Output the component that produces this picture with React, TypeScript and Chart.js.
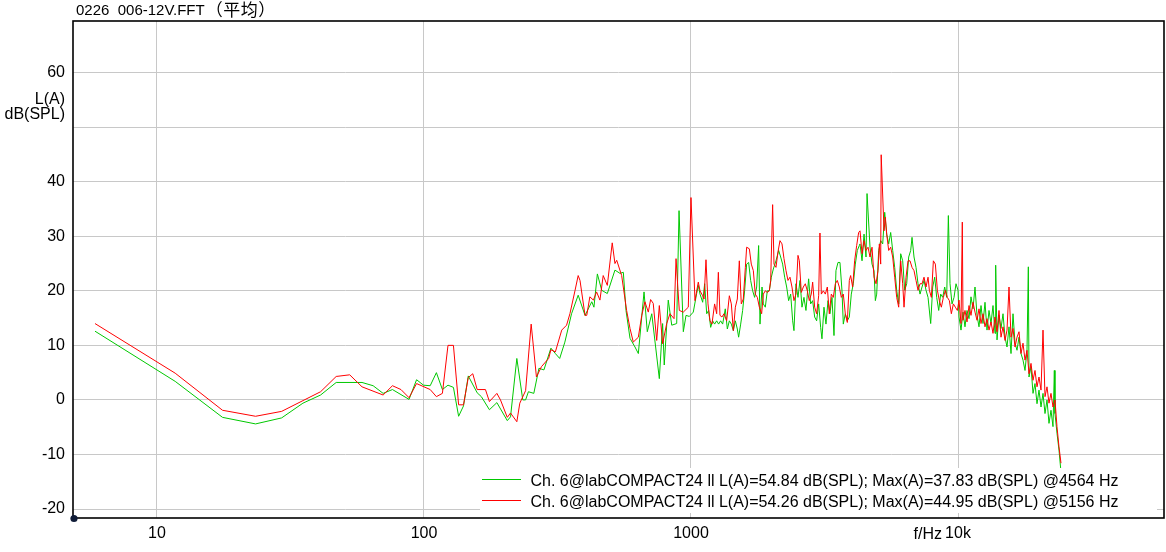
import React, { useEffect, useRef } from 'react';
import { Chart, registerables } from 'chart.js';

Chart.register(...registerables);

const chartTitle = '0226  006-12V.FFT（平均）';
const yUnitLines = ['L(A)', 'dB(SPL)'];
const xUnitLabel = 'f/Hz';
const xTickValues = [10, 100, 1000, 10000];
const xTickLabels = ['10', '100', '1000', '10k'];
const yHiddenTick = 50;
const seriesLabels = [
  'Ch. 6@labCOMPACT24 ll L(A)=54.84 dB(SPL); Max(A)=37.83 dB(SPL) @4564 Hz',
  'Ch. 6@labCOMPACT24 ll L(A)=54.26 dB(SPL); Max(A)=44.95 dB(SPL) @5156 Hz',
];
const seriesColors = ['rgb(0,200,0)', 'rgb(255,0,0)'];

// [frequency Hz, level dB(SPL)]
const greenSpectrum: [number, number][] = [
  [5.86, 12.6], [11.7, 3.4], [17.6, -3.2], [23.4, -4.4], [29.3, -3.3], [35.2, -0.6], [41.0, 0.9],
  [46.9, 3.2], [58.6, 3.2], [64.5, 2.6], [70.3, 1.2], [76.2, 1.9], [87.9, 0.1], [93.8, 3.7],
  [99.6, 2.7], [105.5, 2.6], [111.3, 5.0], [117.2, 1.9], [123.0, 2.7], [128.9, 2.3], [134.8, -3.0],
  [140.6, -1.1], [146.5, 4.4], [158.2, 1.3], [164.0, 0.6], [175.8, -1.8], [187.5, -0.5], [205.1, -3.8],
  [210.9, -3.1], [222.7, 7.6], [234.4, 0.0], [240.2, 0.0], [246.1, 1.5], [257.8, 1.2], [269.5, 5.8],
  [281.3, 5.5], [298.8, 9.5], [310.5, 8.5], [322.3, 7.6], [337, 10.6], [357, 15.8], [378, 19.2],
  [401, 15.5], [425, 18.0], [433, 17.0], [446, 23.1], [463, 20.1], [486, 19.5], [519, 23.8],
  [542, 23.2], [558, 23.4], [571, 16.4], [591, 11.3], [617, 9.7], [635, 8.5], [667, 19.8],
  [686, 12.5], [713, 15.8], [761, 3.9], [783, 14.0], [794, 6.4], [822, 18.3], [847, 13.7],
  [884, 14.0], [902, 34.7], [936, 12.5], [958, 15.5], [986, 15.3], [1020, 16.1], [1050, 19.5],
  [1065, 21.0], [1081, 19.4], [1106, 17.9], [1125, 21.3], [1145, 15.8], [1164, 16.4], [1185, 13.3],
  [1205, 14.5], [1226, 13.9], [1248, 14.5], [1269, 13.9], [1291, 14.5], [1314, 13.9], [1344, 16.7],
  [1368, 13.0], [1392, 14.5], [1416, 13.9], [1441, 12.7], [1466, 14.5], [1491, 13.0], [1508, 11.5],
  [1535, 13.9], [1561, 16.4], [1588, 20.0], [1616, 24.9], [1644, 25.2], [1673, 21.9], [1702, 20.0],
  [1731, 18.8], [1762, 20.7], [1792, 28.3], [1813, 13.9], [1845, 20.7], [1866, 17.6], [1898, 17.0],
  [1931, 20.0], [1965, 20.0], [1999, 22.5], [2034, 24.0], [2081, 25.5], [2130, 27.4], [2167, 26.2],
  [2204, 24.9], [2243, 22.5], [2282, 20.7], [2321, 18.2], [2362, 19.4], [2403, 14.5], [2430, 12.7],
  [2473, 21.3], [2516, 18.8], [2560, 21.9], [2604, 17.0], [2649, 18.8], [2695, 16.4], [2758, 22.2],
  [2806, 17.6], [2855, 18.2], [2905, 15.2], [2955, 14.5], [3007, 17.6], [3059, 13.3], [3094, 11.2],
  [3148, 17.0], [3203, 13.9], [3259, 18.2], [3315, 15.8], [3373, 18.8], [3432, 11.8], [3491, 23.7],
  [3552, 25.2], [3614, 25.2], [3677, 20.0], [3719, 13.9], [3784, 15.8], [3850, 14.5], [3917, 15.2],
  [3985, 19.4], [4054, 21.3], [4125, 24.9], [4197, 27.4], [4270, 28.3], [4296, 28.6], [4371, 25.5],
  [4447, 30.4], [4524, 26.2], [4564, 37.83], [4683, 28.0], [4764, 24.9], [4847, 23.7], [4903, 18.2],
  [4960, 19.4], [5046, 27.4], [5134, 29.2], [5224, 28.6], [5315, 34.4], [5407, 30.4], [5501, 28.6],
  [5596, 30.7], [5694, 27.4], [5793, 24.3], [5894, 20.1], [5996, 17.6], [6101, 26.8], [6207, 25.5],
  [6315, 20.1], [6425, 21.3], [6536, 26.2], [6650, 27.4], [6727, 29.8], [6844, 26.2], [6963, 24.3],
  [7084, 21.3], [7207, 19.4], [7333, 20.7], [7460, 21.9], [7590, 20.1], [7723, 18.8], [7902, 14.0],
  [8040, 20.7], [8179, 22.5], [8322, 18.8], [8467, 16.4], [8613, 19.4], [8763, 18.8], [8916, 20.7],
  [9071, 18.8], [9202, 33.8], [9335, 21.3], [9498, 17.6], [9663, 18.8], [9830, 21.3], [10001, 20.1],
  [10087, 15.2], [10263, 12.8], [10441, 16.1], [10622, 13.4], [10807, 16.4], [10995, 14.9], [11186, 18.9],
  [11381, 16.7], [11579, 20.7], [11781, 15.5], [11986, 13.4], [12195, 17.3], [12407, 14.0], [12623, 17.9],
  [12843, 12.8], [13066, 16.4], [13293, 14.0], [13525, 17.3], [13760, 12.2], [13840, 24.7], [14000, 11.0],
  [14241, 15.5], [14490, 13.1], [14742, 15.8], [14999, 11.5], [15259, 9.7], [15525, 13.4], [15795, 8.5],
  [16069, 15.8], [16349, 10.4], [16634, 9.1], [16923, 11.5], [17218, 8.5], [17518, 7.3], [17822, 5.4],
  [18133, 9.1], [18340, 24.4], [18447, 4.2], [18769, 6.1], [19095, 1.2], [19428, 3.0], [19766, -0.7],
  [20109, 1.8], [20459, -1.3], [20814, 1.2], [21176, -2.5], [21544, 0.0], [21918, -4.3], [22299, -1.9],
  [22687, -4.9], [22950, 5.4], [23082, -2.5], [23484, -6.1], [23892, -9.2], [24240, -12.6],
];

const redSpectrum: [number, number][] = [
  [5.86, 14.0], [11.7, 4.9], [17.6, -1.9], [23.4, -3.0], [29.3, -2.1], [41.0, 1.5], [46.9, 4.3],
  [52.7, 4.6], [58.6, 2.4], [70.3, 0.9], [76.2, 2.6], [82.0, 1.9], [87.9, 0.4], [93.8, 3.0],
  [105.5, 1.9], [111.3, 0.6], [117.2, 1.2], [123.0, 10.0], [128.9, 10.0], [134.8, -0.9], [140.6, -0.9],
  [146.5, 4.1], [152.3, 4.8], [158.2, 1.9], [169.9, 1.9], [175.8, -0.3], [187.5, 1.2], [193.4, 0.0],
  [205.1, -3.2], [210.9, -2.4], [222.7, -4.0], [228.5, -0.6], [240.2, 1.7], [252.0, 13.9], [263.7, 4.2],
  [275.4, 6.1], [293.0, 7.6], [298.8, 9.2], [310.5, 8.8], [328, 12.8], [342, 13.7], [352, 15.8],
  [368, 20.1], [378, 22.8], [384, 21.9], [401, 15.5], [407, 15.5], [418, 18.9], [431, 18.3],
  [443, 19.8], [456, 18.3], [469, 22.8], [486, 21.0], [507, 28.8], [519, 25.0], [527, 25.6],
  [550, 22.8], [574, 16.4], [591, 13.1], [608, 10.6], [635, 11.5], [654, 15.5], [672, 18.0],
  [692, 16.1], [706, 18.4], [722, 17.7], [744, 10.9], [761, 17.3], [783, 10.3], [811, 14.0],
  [834, 15.8], [864, 14.9], [879, 25.9], [904, 16.4], [936, 16.1], [977, 17.0], [1000, 37.1],
  [1035, 18.2], [1065, 21.6], [1081, 20.0], [1106, 19.1], [1119, 18.5], [1138, 25.7], [1158, 17.6],
  [1178, 14.5], [1198, 13.9], [1226, 17.6], [1248, 15.8], [1266, 23.4], [1284, 15.5], [1306, 15.2],
  [1329, 15.8], [1360, 14.5], [1392, 19.1], [1416, 17.6], [1441, 12.7], [1466, 17.0], [1491, 18.5],
  [1517, 25.5], [1543, 17.6], [1570, 18.5], [1598, 24.3], [1616, 28.0], [1654, 27.7], [1682, 24.9],
  [1712, 23.7], [1741, 19.4], [1772, 18.8], [1803, 17.0], [1839, 15.8], [1866, 19.4], [1898, 20.0],
  [1931, 19.7], [1965, 20.0], [1988, 21.9], [2022, 35.8], [2046, 24.9], [2081, 24.3], [2117, 27.1],
  [2154, 29.2], [2192, 28.6], [2230, 25.9], [2269, 23.7], [2308, 21.9], [2348, 22.5], [2389, 20.7],
  [2430, 18.2], [2473, 19.4], [2516, 26.5], [2545, 25.5], [2589, 19.7], [2634, 20.7], [2680, 21.3],
  [2727, 20.0], [2774, 18.2], [2822, 19.4], [2855, 21.6], [2905, 17.0], [2955, 15.8], [3007, 19.1],
  [3041, 30.6], [3077, 19.4], [3130, 20.0], [3185, 19.4], [3240, 20.7], [3296, 15.8], [3354, 19.4],
  [3412, 18.8], [3471, 21.3], [3532, 21.9], [3593, 20.7], [3656, 18.8], [3719, 19.4], [3784, 15.8],
  [3850, 14.2], [3917, 21.9], [3962, 22.8], [4031, 20.7], [4101, 25.5], [4173, 28.3], [4245, 30.7],
  [4296, 31.0], [4371, 26.8], [4447, 29.2], [4524, 27.4], [4603, 28.0], [4683, 26.2], [4764, 28.0],
  [4847, 22.5], [4931, 21.3], [5017, 23.7], [5075, 28.6], [5134, 24.9], [5156, 44.95], [5284, 31.0],
  [5345, 33.5], [5407, 30.4], [5501, 27.4], [5596, 28.0], [5694, 26.2], [5793, 22.5], [5894, 18.8],
  [5996, 17.0], [6101, 25.5], [6207, 21.3], [6278, 17.0], [6388, 22.5], [6499, 25.5], [6612, 25.5],
  [6727, 24.3], [6844, 23.7], [6963, 21.9], [7084, 20.1], [7207, 21.3], [7333, 21.3], [7460, 22.5],
  [7590, 20.7], [7723, 22.5], [7812, 20.1], [7948, 18.8], [8086, 25.5], [8227, 24.9], [8370, 20.1],
  [8516, 18.2], [8663, 17.0], [8814, 18.8], [8967, 20.1], [9123, 18.8], [9282, 18.2], [9443, 15.8],
  [9607, 17.6], [9774, 17.0], [9944, 16.4], [10087, 18.3], [10263, 14.0], [10378, 32.6], [10441, 14.6],
  [10622, 16.4], [10807, 14.3], [10995, 17.3], [11186, 15.5], [11381, 17.9], [11579, 16.1], [11781, 14.6],
  [11986, 16.7], [12195, 14.0], [12407, 15.8], [12623, 13.4], [12843, 14.9], [13066, 12.8], [13293, 14.3],
  [13525, 12.2], [13760, 15.2], [14000, 12.5], [14241, 16.4], [14490, 11.5], [14742, 13.4], [14999, 10.9],
  [15259, 12.8], [15525, 20.7], [15795, 11.5], [16069, 13.1], [16349, 9.7], [16634, 11.5], [16923, 12.5],
  [17218, 8.5], [17518, 10.4], [17822, 7.3], [18133, 9.1], [18447, 4.8], [18769, 6.7], [19095, 3.6],
  [19428, 5.4], [19766, 2.4], [20109, 4.2], [20459, 1.8], [20814, 12.8], [21176, 0.6], [21544, 2.4],
  [21918, -0.6], [22299, 1.2], [22687, -1.3], [23082, 0.0], [23484, -4.9], [23892, -8.6], [24308, -11.6],
];

const FONT = '"Liberation Sans", Arial, sans-serif';
const CJK_FONT = '"Noto Sans CJK SC", "Noto Sans CJK JP", sans-serif';

const decorPlugin = {
  id: 'decor',
  afterDatasetsDraw(chart: any) {
    const { ctx, chartArea } = chart;
    const { right } = chartArea;
    ctx.save();
    const boxLeft = 480;
    const boxRight = right - 7;
    const boxTop = 468;
    const boxBottom = 513;
    ctx.fillStyle = '#ffffff';
    ctx.fillRect(boxLeft, boxTop, boxRight - boxLeft, boxBottom - boxTop);
    ctx.font = '16px ' + FONT;
    ctx.textBaseline = 'alphabetic';
    ctx.textAlign = 'left';
    const ordered = chart.data.datasets
      .slice()
      .sort((a: any, b: any) => a.legendIndex - b.legendIndex);
    ordered.forEach((ds: any, i: number) => {
      const y = 479.5 + i * 21;
      ctx.strokeStyle = ds.borderColor;
      ctx.lineWidth = 1;
      ctx.beginPath();
      ctx.moveTo(482, y);
      ctx.lineTo(521, y);
      ctx.stroke();
      ctx.fillStyle = '#000';
      ctx.fillText(ds.label, 530.5, y + 6);
    });
    ctx.restore();
  },
  afterDraw(chart: any) {
    const { ctx, chartArea } = chart;
    const { left, top, right, bottom } = chartArea;
    ctx.save();
    ctx.strokeStyle = '#000';
    ctx.lineWidth = 1.6;
    ctx.strokeRect(left, top, right - left, bottom - top);
    ctx.fillStyle = '#101c38';
    ctx.beginPath();
    ctx.arc(left + 1, bottom + 0.5, 3.6, 0, Math.PI * 2);
    ctx.fill();

    // title: latin run then CJK run
    ctx.fillStyle = '#000';
    ctx.textAlign = 'left';
    ctx.textBaseline = 'alphabetic';
    const m = chartTitle.match(/^([^\u3000-\u9fff\uff00-\uffef]*)(.*)$/);
    const latin = m ? m[1] : chartTitle;
    const cjk = m ? m[2] : '';
    ctx.font = '15px ' + FONT;
    ctx.fillText(latin, 76, 15);
    let cx = 76 + ctx.measureText(latin).width + 1;
    ctx.font = '17px ' + CJK_FONT;
    for (const ch of Array.from(cjk)) {
      ctx.fillText(ch, cx, 15.5);
      cx += 17.5;
    }

    ctx.font = '16px ' + FONT;
    ctx.textAlign = 'right';
    ctx.fillText(yUnitLines[0], 65, 103.5);
    ctx.fillText(yUnitLines[1], 65, 118.5);

    const xs = chart.scales.x;
    const x10k = xs.getPixelForValue(10000);
    ctx.fillText(xUnitLabel, x10k - 16, 538.5);
    ctx.restore();
  },
};

export default function App() {
  const canvasRef = useRef<HTMLCanvasElement | null>(null);

  useEffect(() => {
    document.body.style.margin = '0';
    const canvas = canvasRef.current;
    if (!canvas) return;
    const chart = new Chart(canvas, {
      type: 'line',
      data: {
        datasets: [
          {
            label: seriesLabels[0],
            legendIndex: 0,
            data: greenSpectrum.map(([f, db]) => ({ x: f, y: db })),
            borderColor: seriesColors[0],
            borderWidth: 1,
            pointRadius: 0,
            tension: 0,
            fill: false,
            order: 2,
          } as any,
          {
            label: seriesLabels[1],
            legendIndex: 1,
            data: redSpectrum.map(([f, db]) => ({ x: f, y: db })),
            borderColor: seriesColors[1],
            borderWidth: 1,
            pointRadius: 0,
            tension: 0,
            fill: false,
            order: 1,
          } as any,
        ],
      },
      options: {
        animation: false,
        responsive: false,
        maintainAspectRatio: false,
        layout: { padding: { left: 0, top: 21, right: 2, bottom: 0 } },
        plugins: {
          legend: { display: false },
          title: { display: false },
          tooltip: { enabled: false },
        },
        scales: {
          x: {
            type: 'logarithmic',
            min: 4.847,
            max: 59090,
            afterBuildTicks: (scale: any) => {
              scale.ticks = xTickValues.map((v) => ({ value: v }));
            },
            afterFit: (scale: any) => {
              scale.height = 34;
            },
            grid: { color: '#c8c8c8', lineWidth: 1, drawTicks: false },
            border: { display: false },
            ticks: {
              autoSkip: false,
              maxRotation: 0,
              padding: 6,
              color: '#000',
              font: { family: FONT, size: 16 },
              callback: (value: any) => {
                const idx = xTickValues.indexOf(Number(value));
                return idx >= 0 ? xTickLabels[idx] : null;
              },
            },
          },
          y: {
            type: 'linear',
            min: -21.65,
            max: 69.47,
            afterFit: (scale: any) => {
              scale.width = 73;
            },
            grid: { color: '#c8c8c8', lineWidth: 1, drawTicks: false },
            border: { display: false },
            ticks: {
              stepSize: 10,
              includeBounds: false,
              padding: 8,
              color: '#000',
              font: { family: FONT, size: 16 },
              callback: (value: any) => (Number(value) === yHiddenTick ? '' : String(value)),
            },
          },
        },
      } as any,
      plugins: [decorPlugin],
    });
    return () => chart.destroy();
  }, []);

  return (
    <div style={{ width: 1166, height: 552, background: '#fff' }}>
      <canvas ref={canvasRef} width={1166} height={552} style={{ display: 'block' }} />
    </div>
  );
}
